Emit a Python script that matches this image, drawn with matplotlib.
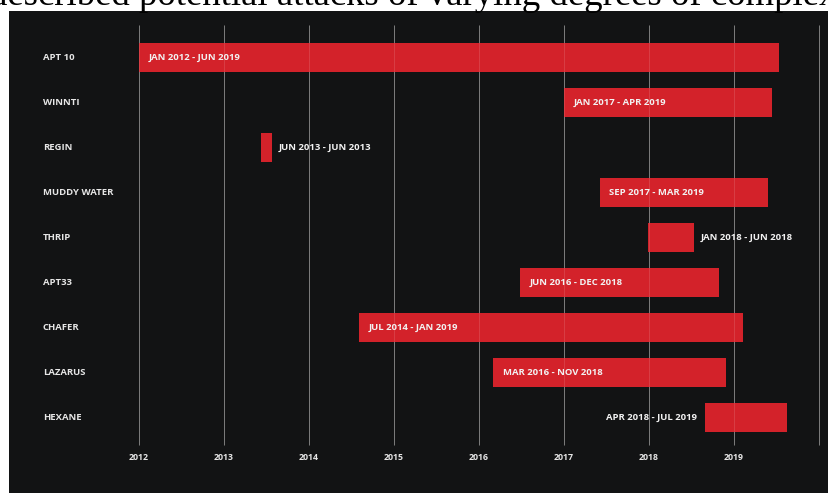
import matplotlib
matplotlib.use("Agg")
import matplotlib.pyplot as plt

# ---------------- data ----------------
groups = ["APT 10", "WINNTI", "REGIN", "MUDDY WATER", "THRIP", "APT33", "CHAFER", "LAZARUS", "HEXANE"]
period_labels = ["JAN 2012 - JUN 2019", "JAN 2017 - APR 2019", "JUN 2013 - JUN 2013",
                 "SEP 2017 - MAR 2019", "JAN 2018 - JUN 2018", "JUN 2016 - DEC 2018",
                 "JUL 2014 - JAN 2019", "MAR 2016 - NOV 2018", "APR 2018 - JUL 2019"]
# bar extents as drawn (decimal years)
start_year = [2012.0, 2017.0, 2013.44, 2017.42, 2017.99, 2016.48, 2014.59, 2016.17, 2018.66]
end_year = [2019.53, 2019.45, 2013.56, 2019.40, 2018.53, 2018.82, 2019.11, 2018.90, 2019.62]
label_place = ["in", "in", "right", "in", "right", "in", "in", "in", "left"]
year_ticks = [2012, 2013, 2014, 2015, 2016, 2017, 2018, 2019]
grid_years = [2012, 2013, 2014, 2015, 2016, 2017, 2018, 2019, 2020]
caption = "described potential attacks of varying degrees of complexity"

# ---------------- layout ----------------
W, H, DPI = 829, 493, 100
BG = "#121314"
RED = "#d3222a"
TXT = "#e6e6e6"
GRID = "#6a6a6a"
FONT = "Open Sans"
FS = 6.8

# pixel calibration
x0_px, x_per_year = 139.0, 85.0
y0_px, y_per_row = 57.5, 45.0
ax_left_px, ax_top_px = 9, 11

def px2year(px):
    return 2012 + (px - x0_px) / x_per_year

def py2row(py):
    return (py - y0_px) / y_per_row

fig = plt.figure(figsize=(W / DPI, H / DPI), dpi=DPI)
fig.patch.set_facecolor("white")
ax = fig.add_axes([ax_left_px / W, 0, 1 - ax_left_px / W, 1 - ax_top_px / H])
ax.set_facecolor(BG)
ax.set_xlim(px2year(ax_left_px), px2year(W))
ax.set_ylim(py2row(H), py2row(ax_top_px))
for s in ax.spines.values():
    s.set_visible(False)
ax.set_xticks([])
ax.set_yticks([])

# gridlines
ax.vlines(grid_years, py2row(25), py2row(445), colors=GRID, linewidth=0.7, zorder=1)

# bars
rows = list(range(len(groups)))
widths = [e - s for s, e in zip(start_year, end_year)]
ax.barh(rows, widths, left=start_year, height=0.64, color=RED, zorder=2)

# grid lines faintly visible over bars too
ax.vlines(grid_years, py2row(25), py2row(445), colors="#ffffff", linewidth=0.5, alpha=0.18, zorder=3)

# labels
for i, (g, lab, s, e, p) in enumerate(zip(groups, period_labels, start_year, end_year, label_place)):
    ax.text(px2year(43), i, g, color=TXT, fontsize=FS, fontweight="bold", family=FONT,
            ha="left", va="center", zorder=4)
    if p == "in":
        ax.annotate(lab, (s, i), xytext=(7, 0), textcoords="offset points", color="#f2f2f2",
                    fontsize=FS, fontweight="bold", family=FONT, ha="left", va="center", zorder=4)
    elif p == "right":
        ax.annotate(lab, (e, i), xytext=(5, 0), textcoords="offset points", color="#f2f2f2",
                    fontsize=FS, fontweight="bold", family=FONT, ha="left", va="center", zorder=4)
    else:
        ax.annotate(lab, (s, i), xytext=(-6, 0), textcoords="offset points", color="#f2f2f2",
                    fontsize=FS, fontweight="bold", family=FONT, ha="right", va="center", zorder=4)

for yv in year_ticks:
    ax.text(yv, py2row(457), str(yv), color=TXT, fontsize=6.3, fontweight="bold", family=FONT,
            ha="center", va="center", zorder=4)

# clipped caption at top
fig.text(-11 / W, 1 - 5 / H, caption, family="Liberation Serif", fontsize=26.5, color="black",
         ha="left", va="baseline")

fig.savefig("out.png", dpi=DPI, facecolor=fig.get_facecolor())
